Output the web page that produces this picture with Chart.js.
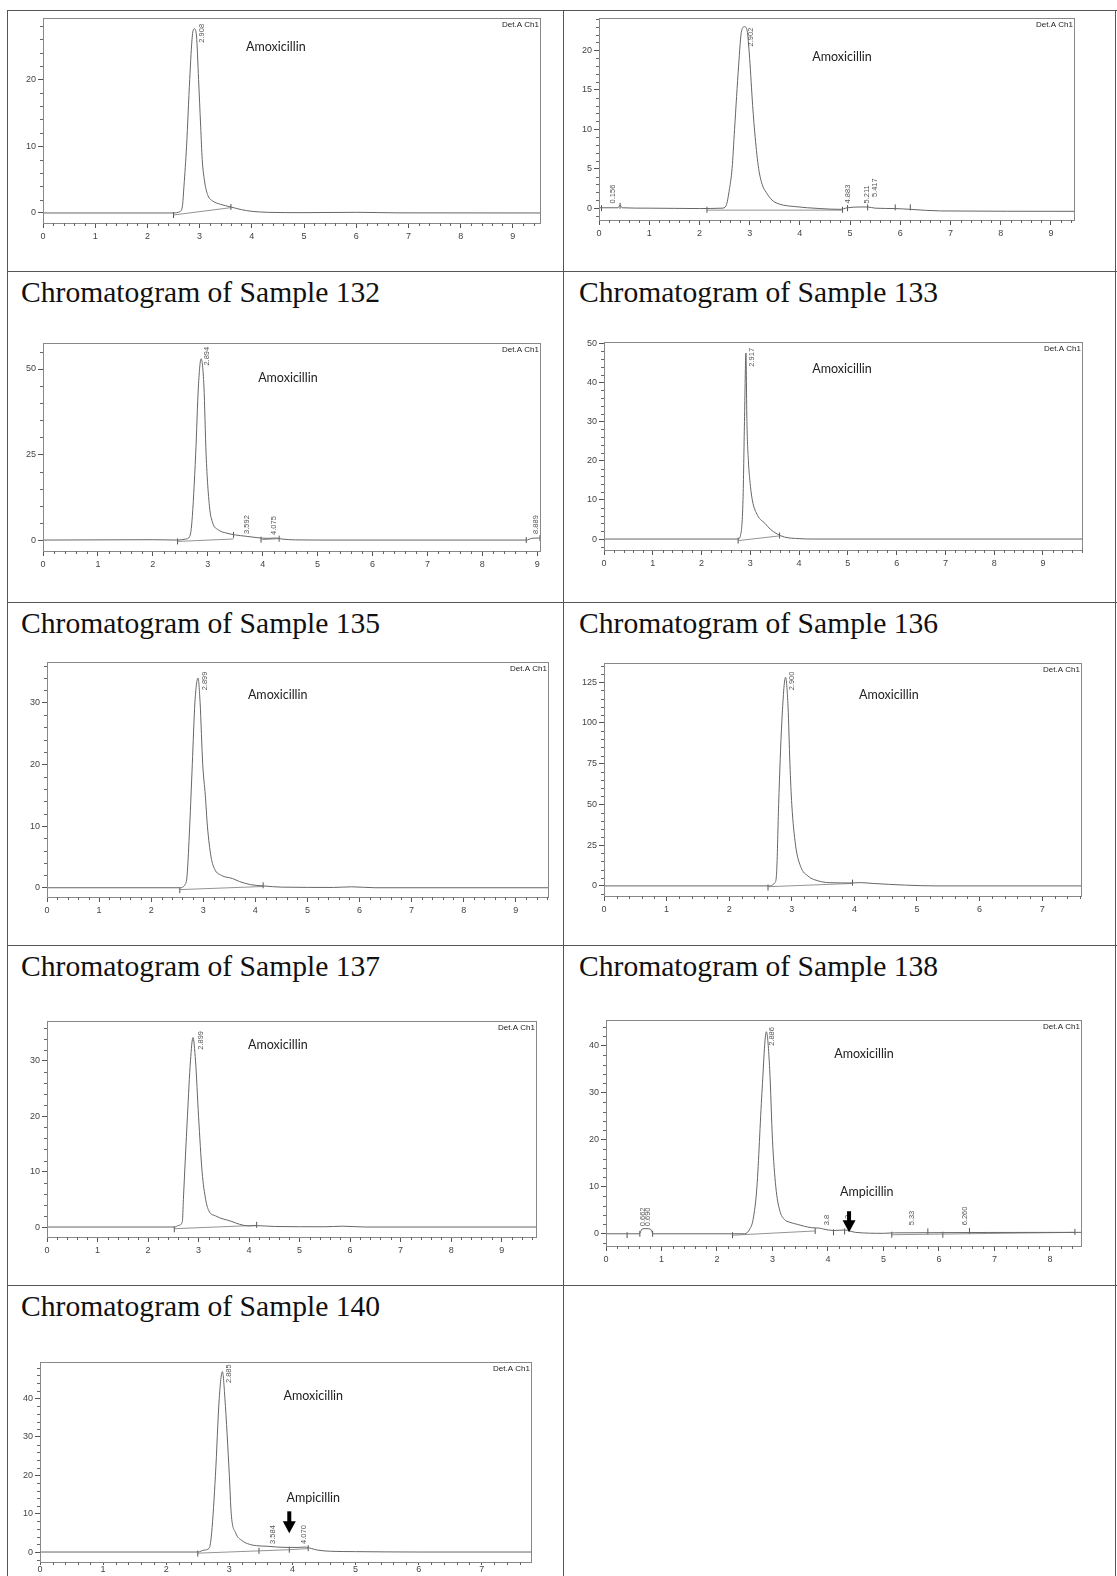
<!DOCTYPE html>
<html>
<head>
<meta charset="utf-8">
<script src="https://cdn.jsdelivr.net/npm/chart.js@4.4.1/dist/chart.umd.min.js"></script>
<style>
  html, body { margin: 0; padding: 0; background: #fff; }
  #page { position: relative; width: 1117px; height: 1576px; overflow: hidden; background: #fff; }
  .rule { position: absolute; background: #555; }
  .title { position: absolute; font-family: "Liberation Serif", "Times New Roman", serif; font-size: 29.6px; line-height: 1; color: #111; white-space: nowrap; }
  canvas { position: absolute; }
</style>
</head>
<body>
<div id="page"></div>
<script>
// ---------- traces (retention time in min, signal in mV) ----------
var xA = [0, 2.5, 2.62, 2.67, 2.7, 2.75, 2.81, 2.86, 2.9, 2.94, 2.98, 3.02, 3.05, 3.1, 3.16, 3.25, 3.4, 3.6, 3.8, 4.0, 4.3, 5.0, 6.0, 6.8, 9.52];
var yA = [0, 0, 0.2, 1, 4, 10, 20, 26.5, 27.6, 26.5, 20, 13, 8, 4.5, 2.6, 1.8, 1.3, 0.9, 0.5, 0.25, 0.1, 0.05, 0.1, 0.02, 0];

var xB = [0, 0.38, 0.42, 0.46, 1.0, 2.0, 2.45, 2.53, 2.6, 2.65, 2.7, 2.78, 2.84, 2.9, 2.95, 3.0, 3.06, 3.11, 3.18, 3.25, 3.33, 3.45, 3.6, 3.9, 4.4, 4.8, 4.95, 5.2, 5.35, 5.5, 5.9, 6.2, 6.8, 9.46];
var yB = [0.05, 0.05, 0.4, 0.05, 0, -0.05, 0, 0.3, 2.5, 5, 10, 18, 22.5, 23, 22.5, 19, 13, 9, 5, 3, 2, 1.0, 0.5, 0.2, -0.05, -0.15, 0.05, 0.15, 0.15, 0, -0.05, -0.15, -0.35, -0.4];

var x132 = [0, 2.0, 2.45, 2.6, 2.67, 2.71, 2.78, 2.83, 2.88, 2.93, 2.97, 3.03, 3.09, 3.19, 3.35, 3.5, 3.7, 3.9, 4.1, 4.25, 4.35, 4.6, 5.0, 8.8, 8.9, 9.05];
var y132 = [0, 0.1, 0, 0.3, 1, 5, 25, 45, 53, 45, 25, 10, 5, 3, 2, 1.5, 1.1, 0.7, 0.5, 0.6, 0.3, 0.05, 0, 0, 0.5, 0.6];

var x133 = [0, 2.75, 2.8, 2.85, 2.88, 2.91, 2.93, 2.96, 2.99, 3.04, 3.15, 3.3, 3.41, 3.55, 3.7, 4.0, 4.3, 9.8];
var y133 = [0, 0, 1, 10, 30, 47.5, 30, 20, 15, 10, 6, 4, 2.5, 1.3, 0.5, 0.1, 0, 0];

var x135 = [0, 2.55, 2.65, 2.69, 2.74, 2.79, 2.84, 2.9, 2.94, 2.99, 3.04, 3.08, 3.15, 3.22, 3.35, 3.56, 3.7, 3.91, 4.15, 4.5, 5.5, 5.85, 6.3, 9.62];
var y135 = [0, 0, 0.5, 2, 10, 20, 30, 34, 30, 20, 15, 10, 5, 3, 2, 1.5, 1, 0.5, 0.3, 0.1, 0.05, 0.15, 0, 0];

var x136 = [0, 2.62, 2.73, 2.76, 2.79, 2.84, 2.9, 2.94, 2.97, 3.0, 3.06, 3.14, 3.26, 3.43, 3.6, 3.95, 4.1, 4.3, 4.8, 5.3, 7.62];
var y136 = [0, 0, 2, 10, 50, 100, 128, 110, 75, 50, 25, 12, 6, 3, 2, 1.8, 2, 1.5, 0.5, 0, 0];

var x137 = [0, 2.52, 2.61, 2.68, 2.7, 2.78, 2.84, 2.89, 2.94, 3.0, 3.07, 3.14, 3.2, 3.34, 3.66, 3.81, 4.0, 4.15, 4.5, 5.5, 5.85, 6.3, 9.68];
var y137 = [0, 0, 0.3, 1, 5, 20, 30, 34.2, 30, 20, 10, 5, 3, 2, 1, 0.5, 0.2, 0.25, 0.1, 0.05, 0.15, 0, 0];

var x138 = [0, 0.6, 0.65, 0.72, 0.8, 0.85, 2.5, 2.59, 2.65, 2.72, 2.81, 2.89, 2.95, 3.0, 3.06, 3.13, 3.22, 3.3, 3.45, 3.7, 3.85, 3.92, 4.1, 4.3, 4.5, 5.0, 5.2, 8.56];
var y138 = [0, 0, 1, 1.1, 1, 0, 0, 1, 3, 10, 30, 43, 35, 20, 10, 5, 3, 2.5, 2, 1.3, 1.2, 1.0, 0.7, 0.8, 0.3, 0.1, 0.2, 0.3];

var x140 = [0, 2.5, 2.6, 2.68, 2.72, 2.78, 2.84, 2.89, 2.93, 3.0, 3.03, 3.1, 3.2, 3.32, 3.47, 3.6, 3.75, 3.95, 4.1, 4.2, 4.3, 4.4, 4.6, 5.0, 6.0, 7.78];
var y140 = [0, 0, 0.5, 1, 5, 20, 40, 47, 40, 20, 10, 5, 3, 2, 1.6, 1.5, 1.3, 1.2, 1.2, 1.3, 0.9, 0.5, 0.2, 0.1, 0, 0];

// ---------- integration baselines ----------
var baseXA = [2.5, 3.6],   baseYA = [-0.3, 0.8];
var baseXB = [2.15, 4.85], baseYB = [-0.25, -0.25];
var baseX132 = [2.45, 3.47, 3.47, 3.97, 4.3], baseY132 = [-0.4, 0.3, null, 0.1, 0.4];
var baseX133 = [2.75, 3.6],  baseY133 = [-0.4, 0.8];
var baseX135 = [2.55, 4.15], baseY135 = [-0.3, 0.2];
var baseX136 = [2.62, 3.97], baseY136 = [-0.5, 1.5];
var baseX137 = [2.52, 4.15], baseY137 = [-0.3, 0.3];
var baseX138 = [2.28, 3.77, 3.77, 5.15, 8.45], baseY138 = [-0.3, 0.6, null, -0.2, 0.3];
var baseX140 = [2.5, 3.47, 3.95, 4.25], baseY140 = [-0.3, 0.3, 0.6, 0.9];

// ---------- peak start / end marks ----------
var markXA = [2.5, 3.6], markYA = [-0.3, 0.9];
var markXB = [0.05, 0.42, 2.15, 4.85, 4.95, 5.35, 5.9, 6.2], markYB = [0, 0.3, -0.2, -0.2, 0, 0.1, 0.1, 0.1];
var markX132 = [2.45, 3.47, 3.97, 4.3, 8.8, 9.05], markY132 = [-0.4, 1.5, 0.1, 0.4, 0, 0.6];
var markX133 = [2.75, 3.6], markY133 = [-0.4, 0.9];
var markX135 = [2.55, 4.15], markY135 = [-0.4, 0.4];
var markX136 = [2.62, 3.97], markY136 = [-1, 2];
var markX137 = [2.52, 4.15], markY137 = [-0.4, 0.4];
var markX138 = [0.38, 0.61, 0.84, 2.28, 3.77, 4.1, 4.3, 5.15, 5.8, 6.07, 6.55, 8.45];
var markY138 = [-0.3, 0, 0, -0.3, 0.6, 0.3, 0.5, -0.2, 0.5, -0.2, 0.6, 0.4];
var markX140 = [2.5, 3.47, 3.95, 4.25], markY140 = [-0.4, 0.3, 0.6, 1.0];

// ---------- retention time labels ----------
var rtA = ['2.908'], rtXA = [3.04], rtYA = [25.5];
var rtB = ['0.156', '2.902', '4.883', '5.211', '5.417'], rtXB = [0.28, 3.03, 4.95, 5.33, 5.5], rtYB = [0.6, 20.5, 0.6, 0.6, 1.4];
var rt132 = ['2.894', '3.592', '4.075', '8.889'], rtX132 = [2.99, 3.72, 4.2, 8.98], rtY132 = [51, 1.8, 1.5, 1.8];
var rt133 = ['2.917'], rtX133 = [3.03], rtY133 = [44];
var rt135 = ['2.899'], rtX135 = [3.04], rtY135 = [32];
var rt136 = ['2.900'], rtX136 = [3.0], rtY136 = [120];
var rt137 = ['2.899'], rtX137 = [3.04], rtY137 = [32];
var rt138 = ['0.662', '0.690', '2.886', '3.8', '4.3', '5.33', '6.260'];
var rtX138 = [0.66, 0.75, 2.99, 3.99, 4.36, 5.52, 6.47], rtY138 = [1.6, 1.6, 40, 1.8, 1.8, 1.8, 1.8];
var rt140 = ['2.885', '3.584', '4.070'], rtX140 = [3.0, 3.69, 4.19], rtY140 = [44, 2.1, 2.1];

// ---------- axis ticks ----------
var xTicks9 = [0, 1, 2, 3, 4, 5, 6, 7, 8, 9];
var xTicks8 = [0, 1, 2, 3, 4, 5, 6, 7, 8];
var xTicks7 = [0, 1, 2, 3, 4, 5, 6, 7];
var yTicksA = [0, 10, 20];
var yTicksB = [0, 5, 10, 15, 20];
var yTicks132 = [0, 25, 50];
var yTicks133 = [0, 10, 20, 30, 40, 50];
var yTicks135 = [0, 10, 20, 30];
var yTicks136 = [0, 25, 50, 75, 100, 125];
var yTicks138 = [0, 10, 20, 30, 40];

// ---------- page: table rules and titles ----------
var page = document.getElementById('page');

function rule(x, y, w, h) {
  var d = document.createElement('div');
  d.className = 'rule';
  d.style.cssText = 'left:' + x + 'px;top:' + y + 'px;width:' + w + 'px;height:' + h + 'px';
  page.appendChild(d);
}
[10, 271, 602, 945, 1285].forEach(function (y) { rule(7, y, 1110, 1); });
[7, 563, 1115].forEach(function (x) { rule(x, 10, 1, 1566); });

function title(text, x, y) {
  var d = document.createElement('div');
  d.className = 'title';
  d.style.left = x + 'px';
  d.style.top = y + 'px';
  d.textContent = text;
  page.appendChild(d);
}
title('Chromatogram of Sample 132', 21, 278);
title('Chromatogram of Sample 133', 579, 278);
title('Chromatogram of Sample 135', 21, 609);
title('Chromatogram of Sample 136', 579, 609);
title('Chromatogram of Sample 137', 21, 952);
title('Chromatogram of Sample 138', 579, 952);
title('Chromatogram of Sample 140', 21, 1292);

// ---------- one chromatogram panel ----------
function zip(xs, ys) {
  var out = [];
  for (var i = 0; i < xs.length; i++) out.push({ x: xs[i], y: ys[i] });
  return out;
}

function drawArrow(ctx, x, yTop, yTip) {
  var headH = 12, headW = 13, shaftW = 4;
  ctx.fillStyle = '#000';
  ctx.fillRect(x - shaftW / 2, yTop, shaftW, yTip - yTop - headH + 1);
  ctx.beginPath();
  ctx.moveTo(x - headW / 2, yTip - headH);
  ctx.lineTo(x + headW / 2, yTip - headH);
  ctx.lineTo(x, yTip);
  ctx.closePath();
  ctx.fill();
}

function drawPanel(p) {
  var padL = 36, padR = 12, padT = 8, padB = 28;
  var w = p.box[2] - p.box[0], h = p.box[3] - p.box[1];
  var cv = document.createElement('canvas');
  cv.width = w + padL + padR;
  cv.height = h + padT + padB;
  cv.style.left = (p.box[0] - padL) + 'px';
  cv.style.top = (p.box[1] - padT) + 'px';
  page.appendChild(cv);

  // frame, minor ticks, peak labels and compound names
  var decor = {
    id: 'decor',
    afterDraw: function (chart) {
      var ctx = chart.ctx, a = chart.chartArea;
      var sx = chart.scales.x, sy = chart.scales.y;
      ctx.save();
      ctx.strokeStyle = '#888';
      ctx.lineWidth = 1;
      ctx.strokeRect(Math.round(a.left) + 0.5, Math.round(a.top) + 0.5,
        Math.round(a.right - a.left), Math.round(a.bottom - a.top));

      ctx.strokeStyle = '#666';
      ctx.beginPath();
      var i, v, px;
      for (i = 0; i * 0.2 <= p.xmax + 1e-9; i++) {
        if (i % 5 === 0) continue;
        px = Math.round(sx.getPixelForValue(i * 0.2)) + 0.5;
        ctx.moveTo(px, a.bottom);
        ctx.lineTo(px, a.bottom + 3);
      }
      for (i = Math.ceil(p.ymin / p.ystep); i * p.ystep <= p.ymax; i++) {
        v = i * p.ystep;
        if (p.yt.indexOf(v) >= 0) continue;
        px = Math.round(sy.getPixelForValue(v)) + 0.5;
        ctx.moveTo(a.left, px);
        ctx.lineTo(a.left - 3, px);
      }
      ctx.stroke();

      ctx.fillStyle = '#222';
      ctx.font = '8px "Liberation Sans", Arial, sans-serif';
      ctx.textAlign = 'right';
      ctx.textBaseline = 'top';
      ctx.fillText('Det.A Ch1', a.right - 1, a.top + 3);

      ctx.fillStyle = '#555';
      ctx.font = '7.5px "Liberation Sans", Arial, sans-serif';
      ctx.textAlign = 'left';
      ctx.textBaseline = 'middle';
      for (i = 0; i < p.rt.length; i++) {
        ctx.save();
        ctx.translate(sx.getPixelForValue(p.rtx[i]), sy.getPixelForValue(p.rty[i]));
        ctx.rotate(-Math.PI / 2);
        ctx.fillText(p.rt[i], 0, 0);
        ctx.restore();
      }

      ctx.fillStyle = '#222';
      ctx.font = '12.5px Lato, "Open Sans", sans-serif';
      ctx.textAlign = 'center';
      ctx.textBaseline = 'middle';
      p.names.forEach(function (n) {
        ctx.fillText(n[0], sx.getPixelForValue(n[1]), sy.getPixelForValue(n[2]));
      });

      if (p.arrow) {
        drawArrow(ctx, sx.getPixelForValue(p.arrow[0]),
          sy.getPixelForValue(p.arrow[1]), sy.getPixelForValue(p.arrow[2]));
      }
      ctx.restore();
    }
  };

  var tickFont = { family: '"Liberation Sans", Arial, sans-serif', size: 9 };
  new Chart(cv.getContext('2d'), {
    type: 'line',
    data: {
      datasets: [
        { data: zip(p.x, p.y), borderColor: '#666', borderWidth: 1, pointRadius: 0,
          cubicInterpolationMode: 'monotone' },
        { data: zip(p.bx, p.by), borderColor: '#777', borderWidth: 0.8, pointRadius: 0, spanGaps: false },
        { data: zip(p.mx, p.my), showLine: false, pointStyle: 'line', pointRotation: 90,
          pointRadius: 3, borderColor: '#555', borderWidth: 1 }
      ]
    },
    options: {
      responsive: false,
      animation: false,
      devicePixelRatio: 1,
      layout: { padding: { left: 0, right: padR, top: padT, bottom: 0 } },
      plugins: { legend: { display: false }, tooltip: { enabled: false } },
      scales: {
        x: {
          type: 'linear', min: 0, max: p.xmax,
          afterFit: function (s) { s.height = padB; },
          afterBuildTicks: function (s) { s.ticks = p.xt.map(function (v) { return { value: v }; }); },
          ticks: { autoSkip: false, maxRotation: 0, padding: p.xpad !== undefined ? p.xpad : 3,
            color: '#444', font: tickFont, callback: function (v) { return String(v); } },
          grid: { drawOnChartArea: false, tickLength: p.xtick || 5, tickColor: '#555', color: '#555' },
          border: { display: false }
        },
        y: {
          type: 'linear', min: p.ymin, max: p.ymax,
          afterFit: function (s) { s.width = padL; },
          afterBuildTicks: function (s) { s.ticks = p.yt.map(function (v) { return { value: v }; }); },
          ticks: { autoSkip: false, padding: 2, color: '#444', font: tickFont,
            callback: function (v) { return String(v); } },
          grid: { drawOnChartArea: false, tickLength: 5, tickColor: '#555', color: '#555' },
          border: { display: false }
        }
      }
    },
    plugins: [decor]
  });
}

var panels = [
  { box: [43, 18, 540, 223], xmax: 9.52, ymin: -1.5, ymax: 29.2, xt: xTicks9, yt: yTicksA, ystep: 2,
    x: xA, y: yA, bx: baseXA, by: baseYA, mx: markXA, my: markYA, rt: rtA, rtx: rtXA, rty: rtYA,
    names: [['Amoxicillin', 4.46, 24.9]] },
  { box: [599, 18, 1074, 220], xmax: 9.46, ymin: -1.5, ymax: 24.1, xt: xTicks9, yt: yTicksB, ystep: 1,
    x: xB, y: yB, bx: baseXB, by: baseYB, mx: markXB, my: markYB, rt: rtB, rtx: rtXB, rty: rtYB,
    names: [['Amoxicillin', 4.84, 19.2]] },
  { box: [43, 343, 540, 551], xmax: 9.05, ymin: -3.2, ymax: 57.6, xt: xTicks9, yt: yTicks132, ystep: 5,
    x: x132, y: y132, bx: baseX132, by: baseY132, mx: markX132, my: markY132, rt: rt132, rtx: rtX132, rty: rtY132,
    names: [['Amoxicillin', 4.46, 47.5]] },
  { box: [604, 342, 1082, 550], xmax: 9.8, ymin: -2.8, ymax: 50.3, xt: xTicks9, yt: yTicks133, ystep: 2,
    x: x133, y: y133, bx: baseX133, by: baseY133, mx: markX133, my: markY133, rt: rt133, rtx: rtX133, rty: rtY133,
    names: [['Amoxicillin', 4.88, 43.5]] },
  { box: [47, 662, 548, 897], xmax: 9.62, ymin: -1.5, ymax: 36.6, xt: xTicks9, yt: yTicks135, ystep: 2,
    x: x135, y: y135, bx: baseX135, by: baseY135, mx: markX135, my: markY135, rt: rt135, rtx: rtX135, rty: rtY135,
    names: [['Amoxicillin', 4.43, 31.2]] },
  { box: [604, 663, 1081, 896], xmax: 7.62, ymin: -6.2, ymax: 136.8, xt: xTicks7, yt: yTicks136, ystep: 5,
    x: x136, y: y136, bx: baseX136, by: baseY136, mx: markX136, my: markY136, rt: rt136, rtx: rtX136, rty: rtY136,
    names: [['Amoxicillin', 4.55, 117]] },
  { box: [47, 1021, 536, 1237], xmax: 9.68, ymin: -1.8, ymax: 37.2, xt: xTicks9, yt: yTicks135, ystep: 2,
    x: x137, y: y137, bx: baseX137, by: baseY137, mx: markX137, my: markY137, rt: rt137, rtx: rtX137, rty: rtY137,
    names: [['Amoxicillin', 4.57, 32.8]] },
  { box: [606, 1020, 1081, 1246], xmax: 8.56, ymin: -2.6, ymax: 45.5, xt: xTicks8, yt: yTicks138, ystep: 2,
    x: x138, y: y138, bx: baseX138, by: baseY138, mx: markX138, my: markY138, rt: rt138, rtx: rtX138, rty: rtY138,
    names: [['Amoxicillin', 4.65, 38.3], ['Ampicillin', 4.70, 9.0]], arrow: [4.38, 4.8, 0.3] },
  { box: [40, 1362, 531, 1562], xmax: 7.78, ymin: -2.6, ymax: 49.5, xt: xTicks7, yt: yTicks138, ystep: 2,
    xtick: 3, xpad: -1,
    x: x140, y: y140, bx: baseX140, by: baseY140, mx: markX140, my: markY140, rt: rt140, rtx: rtX140, rty: rtY140,
    names: [['Amoxicillin', 4.33, 40.7], ['Ampicillin', 4.33, 14.2]], arrow: [3.95, 10.6, 4.9] }
];

panels.forEach(drawPanel);
</script>
</body>
</html>
